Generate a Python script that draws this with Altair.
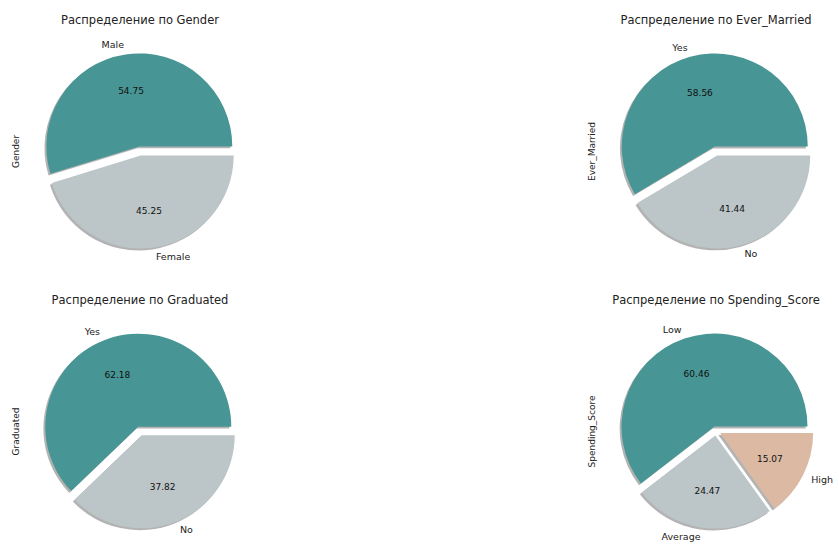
import math
import altair as alt
import pandas as pd

# ---- data ----
gender_cats = ["Male", "Female"]
gender_vals = [54.75, 45.25]
married_cats = ["Yes", "No"]
married_vals = [58.56, 41.44]
grad_cats = ["Yes", "No"]
grad_vals = [62.18, 37.82]
spend_cats = ["Low", "Average", "High"]
spend_vals = [60.46, 24.47, 15.07]

colors = ["#479594", "#bcc5c7", "#dcb9a3"]

R = 93          # pie radius in px
W, H = 236, 238
DX = W / 2 / R
DY = H / 2 / R
EXPLODE = 0.05
LABEL_D = 1.1
PCT_D = 0.6
FONT = "DejaVu Sans"


def panel(cats, vals, name):
    df = pd.DataFrame({"cat": cats, "pct": vals, "idx": list(range(len(cats)))})
    base = (
        alt.Chart(df)
        .transform_window(end="sum(pct)", sort=[alt.SortField("idx")], frame=[None, 0])
        .transform_calculate(
            start="datum.end - datum.pct",
            a="PI * (datum.end - datum.pct / 2) / 50",
        )
        .transform_calculate(
            ex=f"{EXPLODE} * cos(datum.a)",
            ey=f"{EXPLODE} * sin(datum.a)",
            lx=f"{EXPLODE + LABEL_D} * cos(datum.a)",
            ly=f"{EXPLODE + LABEL_D} * sin(datum.a)",
            px=f"{EXPLODE + PCT_D} * cos(datum.a)",
            py=f"{EXPLODE + PCT_D} * sin(datum.a)",
        )
        .transform_calculate(sx="datum.ex - 0.02", sy="datum.ey - 0.02")
    )
    xs = alt.Scale(domain=[-DX, DX], nice=False, zero=False)
    ys = alt.Scale(domain=[-DY, DY], nice=False, zero=False)
    th = alt.Theta("start:Q", scale=alt.Scale(domain=[0, 100], range=[2.5 * math.pi, 0.5 * math.pi]))
    yaxis = alt.Axis(
        title=name, labels=False, ticks=False, domain=False, grid=False,
        titleX=-7, titleBaseline="middle", titleAngle=270,
        titleFontSize=9, titleFontWeight="normal", titleColor="#222", titleFont=FONT,
    )

    def Y(field):
        return alt.Y(field, scale=ys, axis=yaxis, title=name)

    def X(field):
        return alt.X(field, scale=xs, axis=None)

    shadow = base.mark_arc(outerRadius=R, color="#404040", opacity=0.4).encode(
        x=X("sx:Q"), y=Y("sy:Q"), theta=th, theta2="end:Q",
    )
    pie = base.mark_arc(outerRadius=R).encode(
        x=X("ex:Q"), y=Y("ey:Q"), theta=th, theta2="end:Q",
        color=alt.Color("idx:N", scale=alt.Scale(domain=[0, 1, 2], range=colors), legend=None),
    )
    lab_r = base.transform_filter("cos(datum.a) >= 0").mark_text(
        align="left", baseline="middle", fontSize=9.5, font=FONT, color="#222"
    ).encode(x=X("lx:Q"), y=Y("ly:Q"), text="cat:N")
    lab_l = base.transform_filter("cos(datum.a) < 0").mark_text(
        align="right", baseline="middle", fontSize=9.5, font=FONT, color="#222"
    ).encode(x=X("lx:Q"), y=Y("ly:Q"), text="cat:N")
    pct = base.mark_text(align="center", baseline="middle", fontSize=9, font=FONT, color="#111").encode(
        x=X("px:Q"), y=Y("py:Q"), text=alt.Text("pct:Q", format=".2f"),
    )
    return alt.layer(shadow, pie, lab_r, lab_l, pct).properties(
        width=W, height=H,
        title=alt.TitleParams(
            f"Распределение по {name}", fontSize=11.5, fontWeight="normal",
            font=FONT, color="#222", offset=6,
        ),
    )


top = alt.hconcat(
    panel(gender_cats, gender_vals, "Gender"),
    panel(married_cats, married_vals, "Ever_Married"),
    spacing=329,
)
bottom = alt.hconcat(
    panel(grad_cats, grad_vals, "Graduated"),
    panel(spend_cats, spend_vals, "Spending_Score"),
    spacing=329,
)
chart = (
    alt.vconcat(top, bottom, spacing=24)
    .properties(padding={"left": 11, "top": 14, "right": 0, "bottom": 0}, background="white")
    .configure_view(stroke=None)
)
chart.save("out.html", embed_options={"renderer": "svg", "actions": False})
